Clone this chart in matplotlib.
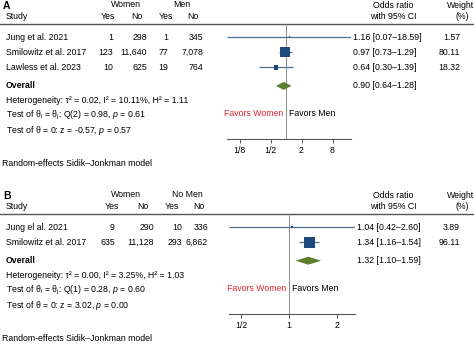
import numpy as np
import matplotlib
matplotlib.use("Agg")
import matplotlib.pyplot as plt

plt.rcParams["font.family"] = ["Liberation Sans", "DejaVu Sans"]
plt.rcParams["mathtext.fontset"] = "custom"
plt.rcParams["mathtext.rm"] = "Liberation Sans"
plt.rcParams["mathtext.it"] = "Liberation Sans:italic"

# panel A: women vs men
studies_a = ["Jung et al. 2021", "Smilowitz et al. 2017", "Lawless et al. 2023"]
women_yes_a = [1, 123, 10]
women_no_a = [298, 11640, 625]
men_yes_a = [1, 77, 19]
men_no_a = [345, 7078, 764]
or_a = [1.16, 0.97, 0.64]
lo_a = [0.07, 0.73, 0.30]
hi_a = [18.59, 1.29, 1.39]
weight_a = [1.57, 80.11, 18.32]
overall_a = [0.90, 0.64, 1.28]
stats_a = ["Heterogeneity: τ² = 0.02, I² = 10.11%, H² = 1.11",
           r"Test of θ$_\mathregular{i}$ = θ$_\mathregular{j}$: Q(2) = 0.98, $p$ = 0.61",
           r"Test of θ = 0: z = -0.57, $p$ = 0.57"]
ticks_a = [1/8, 1/2, 2, 8]
ticklabels_a = ["1/8", "1/2", "2", "8"]

# panel B: women vs no men
studies_b = ["Jung el al. 2021", "Smilowitz et al. 2017"]
women_yes_b = [9, 635]
women_no_b = [290, 11128]
men_yes_b = [10, 293]
men_no_b = [336, 6862]
or_b = [1.04, 1.34]
lo_b = [0.42, 1.16]
hi_b = [2.60, 1.54]
weight_b = [3.89, 96.11]
overall_b = [1.32, 1.10, 1.59]
stats_b = ["Heterogeneity: τ² = 0.00, I² = 3.25%, H² = 1.03",
           r"Test of θ$_\mathregular{i}$ = θ$_\mathregular{j}$: Q(1) = 0.28, $p$ = 0.60",
           r"Test of θ = 0: z = 3.02, $p$ = 0.00"]
ticks_b = [1/2, 1, 2]
ticklabels_b = ["1/2", "1", "2"]

W, H = 474, 347
FS = 6.3
SQ = "#1c4a7c"
CI_COL = "#4f6f90"
DIAM = "#5b7f2b"
RED = "#e3262b"

fig = plt.figure(figsize=(W / 100, H / 100), dpi=100)
base = fig.add_axes([0, 0, 1, 1])
base.set_xlim(0, W)
base.set_ylim(H, 0)
base.axis("off")


def panel(y0, letter, group2, studies, wy, wn, my, mn, ors, los, his, wts, overall,
          stats, ticks, ticklabels, xc, k, cols, heads):
    t = dict(fontsize=FS, va="center")
    base.text(3, y0 + 2, letter, fontsize=FS + 1.2, fontweight="bold", va="center")
    base.text(126, y0, "Women", ha="center", **t)
    base.text(heads[4], y0, group2, ha="center", **t)
    base.text(6, y0 + 12, "Study", **t)
    for hx, lab in zip(heads[:4], ["Yes", "No", "Yes", "No"]):
        base.text(hx, y0 + 12, lab, ha="center", **t)
    base.text(393, y0 + 1, "Odds ratio", ha="center", **t)
    base.text(393, y0 + 12, "with 95% CI", ha="center", **t)
    base.text(461, y0 + 1, "Weight", ha="center", **t)
    base.text(462, y0 + 12, "(%)", ha="center", **t)
    line_y = y0 + 19.5
    base.plot([0, W], [line_y, line_y], color="#555555", lw=1.0)

    rows = [line_y + 13.5 + 15.2 * i for i in range(len(studies))]
    ov_y = rows[-1] + 18.5
    for y, s, a, b, c, d in zip(rows, studies, wy, wn, my, mn):
        base.text(6, y, s, **t)
        for cx, v in zip(cols, [a, b, c, d]):
            base.text(cx, y, f"{v:,}", ha="right", **t)
    base.text(6, ov_y, "Overall", fontweight="bold", **t)
    for i, s in enumerate(stats):
        base.text(6, ov_y + 14.5 + 15.2 * i, s, **t)
    axis_y = ov_y + 53
    base.text(2, axis_y + 25, "Random-effects Sidik\u2013Jonkman model", **t)

    # forest plot on a log2 odds-ratio scale
    xmin, xmax = min(los), max(his)
    x0 = xc + k * np.log2(xmin)
    x1 = xc + k * np.log2(xmax)
    ax = fig.add_axes([x0 / W, 1 - axis_y / H, (x1 - x0) / W, (axis_y - line_y) / H])
    ax.set_xscale("log", base=2)
    ax.set_xlim(xmin, xmax)
    ax.set_ylim(axis_y, line_y)
    ax.patch.set_alpha(0)
    for sp in ["top", "left", "right"]:
        ax.spines[sp].set_visible(False)
    ax.spines["bottom"].set_color("#555555")
    ax.spines["bottom"].set_linewidth(0.8)
    ax.axvline(1, color="#8a8a8a", lw=0.7, zorder=1)
    ax.hlines(rows, los, his, color=CI_COL, lw=0.9, zorder=2)
    sizes = [(1.12 * np.sqrt(w) * 0.72) ** 2 for w in wts]
    ax.scatter(ors, rows, s=sizes, marker="s", color=SQ, linewidths=0, zorder=3)
    est, lo, hi = overall
    ax.fill([lo, est, hi, est], [ov_y, ov_y - 4, ov_y, ov_y + 4], color=DIAM, lw=0, zorder=3)
    ax.set_yticks([])
    ax.set_xticks(ticks)
    ax.set_xticklabels(ticklabels)
    ax.minorticks_off()
    ax.tick_params(axis="x", length=3, width=0.7, color="#555555", labelsize=FS, pad=2)

    fav_y = axis_y - 25
    base.text(xc - 3, fav_y, "Favors Women", ha="right", color=RED, **t)
    base.text(xc + 3, fav_y, "Favors Men", ha="left", **t)

    tx = x1 + 2
    for y, e, l, h, w in zip(rows, ors, los, his, wts):
        base.text(tx, y, f"{e:.2f} [{l:.2f}\u2013{h:.2f}]", **t)
        base.text(460, y, f"{w:.2f}", ha="right", **t)
    base.text(tx, ov_y, f"{est:.2f} [{lo:.2f}\u2013{hi:.2f}]", **t)


panel(4, "A", "Men", studies_a, women_yes_a, women_no_a, men_yes_a, men_no_a,
      or_a, lo_a, hi_a, weight_a, overall_a, stats_a, ticks_a, ticklabels_a,
      xc=286, k=15.5, cols=[113, 147, 168, 203], heads=[108, 137, 166, 193, 182])
panel(194, "B", "No Men", studies_b, women_yes_b, women_no_b, men_yes_b, men_no_b,
      or_b, lo_b, hi_b, weight_b, overall_b, stats_b, ticks_b, ticklabels_b,
      xc=289, k=48, cols=[115, 154, 182, 208], heads=[112, 143, 172, 199, 187])

fig.savefig("out.png", dpi=100)
